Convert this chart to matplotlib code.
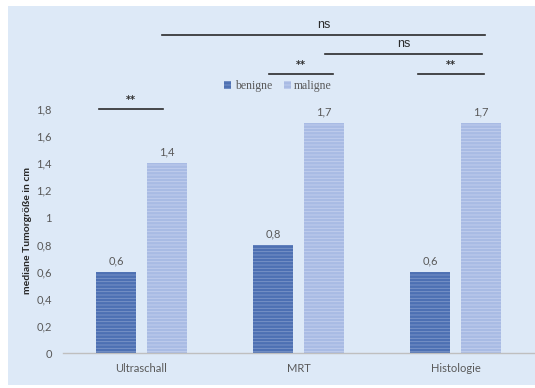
import matplotlib.pyplot as plt
from matplotlib.patches import Rectangle
import numpy as np

plt.rcParams['hatch.linewidth'] = 0.6

# data
categories = ['Ultraschall', 'MRT', 'Histologie']
benigne = [0.6, 0.8, 0.6]
maligne = [1.4, 1.7, 1.7]
yticks = [0, 0.2, 0.4, 0.6, 0.8, 1.0, 1.2, 1.4, 1.6, 1.8]

# significance brackets: (x start, x end, y, label)
sig_x0 = [-0.27, 0.81, 1.76, 1.17, 0.13]
sig_x1 = [0.14, 1.22, 2.18, 2.17, 2.19]
sig_y = [1.80, 2.06, 2.06, 2.205, 2.345]
sig_lab = ['**', '**', '**', 'ns', 'ns']

grey = '#595959'
c_ben = '#4d70b3'
c_mal = '#a8bbe4'

W, H = 535, 388
fig = plt.figure(figsize=(W / 100, H / 100), dpi=100)
fig.patch.set_facecolor('white')
fig.patches.append(Rectangle((8 / W, 3 / H), 527 / W, 379 / H, transform=fig.transFigure,
                             facecolor='#dde9f7', edgecolor='none', zorder=-10))

ax = fig.add_axes([63 / W, 35 / H, 471 / W, 244 / H])
ax.set_facecolor('none')
ax.set_zorder(5)

x = np.arange(len(categories))
off = 0.16
bw = 0.255
ax.bar(x - off, benigne, bw, color=c_ben, edgecolor='#7d97c9', linewidth=0, hatch='-----', label='benigne')
ax.bar(x + off, maligne, bw, color=c_mal, edgecolor='#c3d0ee', linewidth=0, hatch='-----', label='maligne')

for xi, v in zip(x, benigne):
    ax.annotate(f'{v:.1f}'.replace('.', ','), (xi - off, v), xytext=(0, 4), textcoords='offset points',
                ha='center', va='bottom', fontsize=8, color=grey, family='Lato')
for xi, v in zip(x, maligne):
    ax.annotate(f'{v:.1f}'.replace('.', ','), (xi + off, v), xytext=(0, 4), textcoords='offset points',
                ha='center', va='bottom', fontsize=8, color=grey, family='Lato')

ax.set_xlim(-0.5, 2.5)
ax.set_ylim(0, 1.8)
ax.set_xticks(x)
ax.set_xticklabels(categories, fontsize=8, color=grey, family='Lato')
ax.set_yticks(yticks)
ax.set_yticklabels([('%g' % t).replace('.', ',') for t in yticks], fontsize=8, color=grey, family='Lato')
ax.tick_params(axis='x', length=0, pad=7)
ax.tick_params(axis='y', length=0, pad=8)
for s in ['top', 'right', 'left']:
    ax.spines[s].set_visible(False)
ax.spines['bottom'].set_color('#bfbfbf')
ax.spines['bottom'].set_linewidth(1.0)

ax.set_ylabel('mediane Tumorgröße in cm', fontsize=7.5, fontweight='bold', color='#262626',
              family='Lato', labelpad=3)

# significance lines
for x0, x1, y, lab in zip(sig_x0, sig_x1, sig_y, sig_lab):
    ax.plot([x0, x1], [y, y], color='#2b2b2b', lw=1.2, clip_on=False)
    if lab == 'ns':
        ax.text((x0 + x1) / 2, y + 0.03, lab, ha='center', va='bottom', fontsize=9,
                color='#2b2b2b', family='Liberation Sans')
    else:
        ax.text((x0 + x1) / 2, y + 0.03, lab, ha='center', va='bottom', fontsize=7,
                fontweight='bold', color='#2b2b2b', family='DejaVu Sans')

leg = ax.legend(loc='center', bbox_to_anchor=(278 / W, (H - 86) / H), bbox_transform=fig.transFigure,
                ncol=2, frameon=False, handlelength=0.6, handleheight=0.6, handletextpad=0.3,
                columnspacing=1.0, prop={'family': 'Liberation Serif', 'size': 8.5})
for t in leg.get_texts():
    t.set_color(grey)

fig.savefig('out.png', dpi=100, facecolor='white')
